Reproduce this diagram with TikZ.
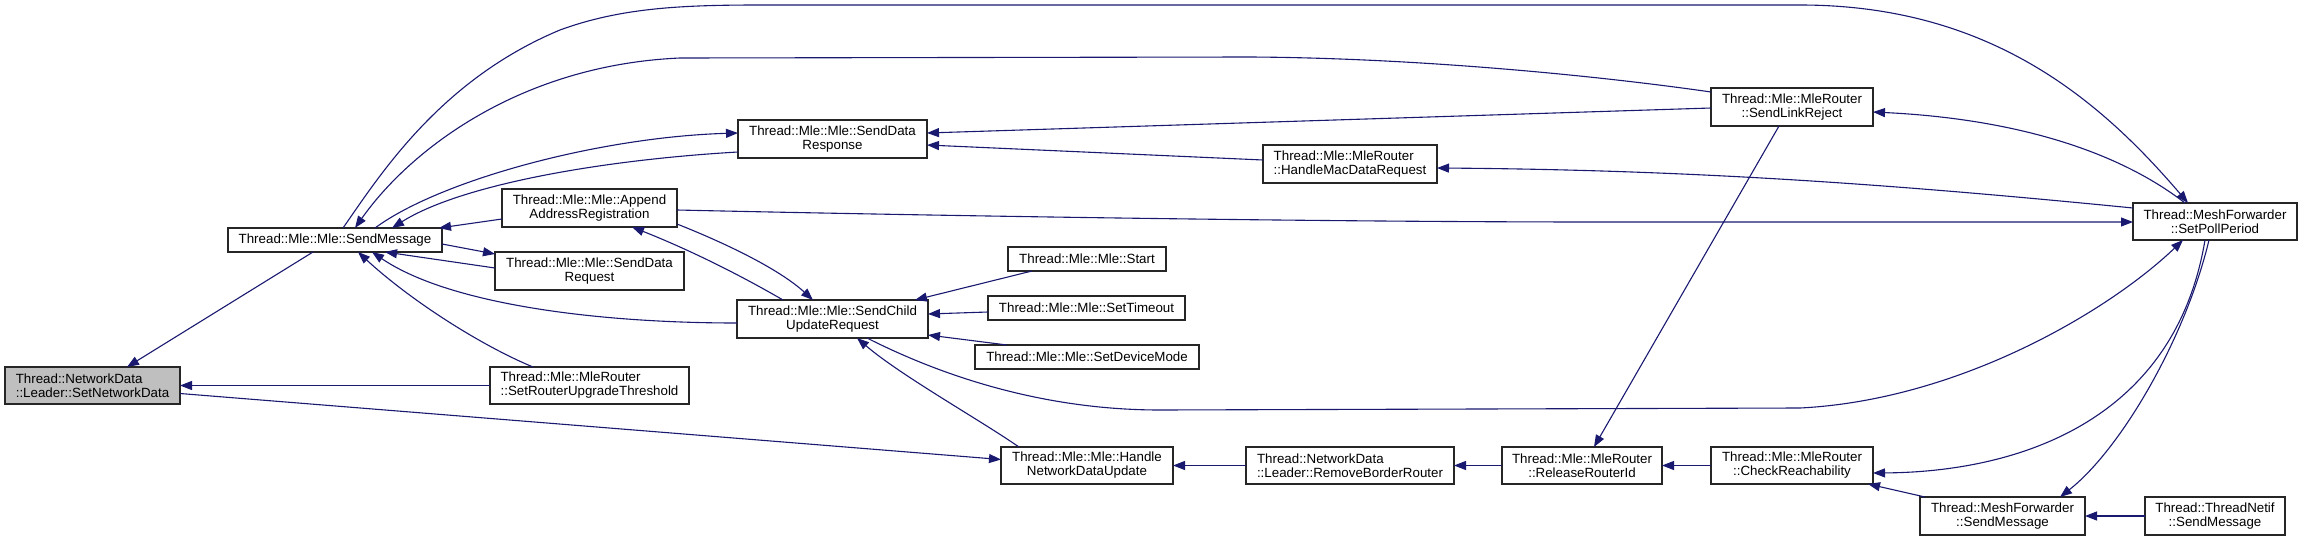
\documentclass[tikz,border=0pt]{standalone}
\usepackage{fontspec}
\setmainfont{Liberation Sans}
\usetikzlibrary{arrows.meta,calc}
\definecolor{midnight}{RGB}{25,25,112}
\definecolor{greyroot}{RGB}{191,191,191}
\begin{document}
\begin{tikzpicture}[x=1pt,y=-1pt,
  fn/.style={draw=black!85, line width=1.2pt, fill=white, inner sep=0pt, outer sep=0pt, align=center, font=\fontsize{13.33}{14}\selectfont},
  rootfn/.style={fn, fill=greyroot, align=left},
  lft/.style={align=left},
  callarrow/.style={draw=midnight, line width=1.1pt, -{Triangle[length=12pt,width=9pt]}}]
\useasboundingbox (0,0) rectangle (2303,541);

% nodes
\node[rootfn, minimum width=175, minimum height=37] (SND) at (92.5,385.5) {Thread::NetworkData\\::Leader::SetNetworkData};
\node[fn, minimum width=214, minimum height=24] (SM) at (335,240) {Thread::Mle::Mle::SendMessage};
\node[fn, minimum width=189, minimum height=38] (SDR) at (832.5,139) {Thread::Mle::Mle::SendData\\Response};
\node[fn, minimum width=175, minimum height=38] (APP) at (589.5,208) {Thread::Mle::Mle::Append\\AddressRegistration};
\node[fn, minimum width=189, minimum height=38] (SDQ) at (589.5,271) {Thread::Mle::Mle::SendData\\Request};
\node[fn, minimum width=191, minimum height=38] (SCUR) at (832.5,319) {Thread::Mle::Mle::SendChild\\UpdateRequest};
\node[fn, lft, minimum width=199, minimum height=37] (SRUT) at (589.5,385.5) {Thread::Mle::MleRouter\\::SetRouterUpgradeThreshold};
\node[fn, minimum width=158, minimum height=24] (Start) at (1087,259) {Thread::Mle::Mle::Start};
\node[fn, minimum width=197, minimum height=24] (STO) at (1086.5,308) {Thread::Mle::Mle::SetTimeout};
\node[fn, minimum width=224, minimum height=24] (SDM) at (1087,357) {Thread::Mle::Mle::SetDeviceMode};
\node[fn, minimum width=172, minimum height=37] (HNDU) at (1087,465.5) {Thread::Mle::Mle::Handle\\NetworkDataUpdate};
\node[fn, lft, minimum width=174, minimum height=38] (HMDR) at (1350,164) {Thread::Mle::MleRouter\\::HandleMacDataRequest};
\node[fn, lft, minimum width=208, minimum height=37] (RBR) at (1350,465.5) {Thread::NetworkData\\::Leader::RemoveBorderRouter};
\node[fn, minimum width=162, minimum height=38] (SLR) at (1792,107) {Thread::Mle::MleRouter\\::SendLinkReject};
\node[fn, minimum width=160, minimum height=37] (RRI) at (1582,465.5) {Thread::Mle::MleRouter\\::ReleaseRouterId};
\node[fn, minimum width=162, minimum height=37] (CR) at (1792,465.5) {Thread::Mle::MleRouter\\::CheckReachability};
\node[fn, minimum width=164, minimum height=37] (SPP) at (2215,221.5) {Thread::MeshForwarder\\::SetPollPeriod};
\node[fn, minimum width=165, minimum height=38] (MSM) at (2002.5,516) {Thread::MeshForwarder\\::SendMessage};
\node[fn, minimum width=140, minimum height=38] (TN) at (2215,516) {Thread::ThreadNetif\\::SendMessage};

% connectors
\draw[callarrow] ($(SM.south west)+(85,0)$) -- ($(SND.north west)+(122,0)$);
\draw[callarrow] (SRUT.west) -- (SND.east);
\draw[callarrow] ($(SND.east)+(0,8)$) -- ($(HNDU.west)+(0,-6)$);
% SM -> SPP (top curve)
\draw[callarrow] ($(SM.north west)+(115,0)$) .. controls (380,175) and (440,80) .. (560,30)
  .. controls (620,8) and (680,5) .. (760,5) -- (1800,5)
  .. controls (1990,5) and (2100,100) .. ($(SPP.north west)+(55,0)$);
% SLR -> SM
\draw[callarrow] ($(SLR.north west)+(0,4)$) .. controls (1600,76) and (1420,58) .. (1250,57)
  -- (680,58) .. controls (520,65) and (410,150) .. ($(SM.north west)+(127,0)$);
% SM -> SDR
\draw[callarrow] ($(SM.north west)+(147,0)$) .. controls (440,180) and (600,137) .. ($(SDR.west)+(0,-6)$);
% SDR -> SM
\draw[callarrow] ($(SDR.west)+(0,13)$) .. controls (600,160) and (460,185) .. ($(SM.north west)+(164,0)$);
% APP -> SM
\draw[callarrow] ($(APP.west)+(0,11)$) -- ($(SM.north east)+(-3,0)$);
% SM -> SDQ
\draw[callarrow] ($(SM.east)+(0,4)$) -- ($(SDQ.north west)+(0,2)$);
% SDQ -> SM
\draw[callarrow] ($(SDQ.west)+(0,-3)$) -- ($(SM.south west)+(157,0)$);
% SCUR -> SM
\draw[callarrow] ($(SCUR.west)+(0,4)$) .. controls (600,323) and (450,305) .. ($(SM.south west)+(144,0)$);
% SRUT -> SM
\draw[callarrow] ($(SRUT.north west)+(43,0)$) .. controls (480,345) and (410,300) .. ($(SM.south west)+(130,0)$);
% SLR -> SDR, HMDR -> SDR
\draw[callarrow] ($(SLR.west)+(0,1)$) -- ($(SDR.east)+(0,-6)$);
\draw[callarrow] ($(HMDR.west)+(0,-4)$) -- ($(SDR.east)+(0,6)$);
% SPP -> SLR
\draw[callarrow] ($(SPP.north west)+(52,0)$) .. controls (2110,145) and (2000,118) .. ($(SLR.east)+(0,5)$);
% SPP -> HMDR
\draw[callarrow] ($(SPP.north west)+(0,5)$) .. controls (1900,185) and (1700,170) .. ($(HMDR.east)+(0,4)$);
% APP -> SPP
\draw[callarrow] ($(APP.east)+(0,2)$) .. controls (900,215) and (1300,222) .. (1600,222) -- ($(SPP.west)+(0,0.5)$);
% SLR -> RRI
\draw[callarrow] ($(SLR.south west)+(68,0)$) -- ($(RRI.north west)+(92,0)$);
% APP <-> SCUR
\draw[callarrow] ($(APP.south east)+(0,-3)$) .. controls (730,245) and (780,270) .. ($(SCUR.north west)+(76,0)$);
\draw[callarrow] ($(SCUR.north west)+(46,0)$) .. controls (740,275) and (690,250) .. ($(APP.south west)+(130,0)$);
% Start, SetTimeout, SetDeviceMode -> SCUR
\draw[callarrow] ($(Start.south west)+(24,0)$) -- ($(SCUR.north east)+(-13,0)$);
\draw[callarrow] ($(STO.west)+(0,4)$) -- ($(SCUR.east)+(0,-5)$);
\draw[callarrow] ($(SDM.north west)+(32,0)$) -- ($(SCUR.east)+(0,16)$);
% SCUR -> SPP
\draw[callarrow] ($(SCUR.south east)+(-61,0)$) .. controls (950,380) and (1050,410) .. (1160,410)
  -- (1800,408) .. controls (1960,400) and (2110,310) .. ($(SPP.south west)+(50,0)$);
% HNDU -> SCUR
\draw[callarrow] ($(HNDU.north west)+(18,0)$) .. controls (980,420) and (900,375) .. ($(SCUR.south east)+(-71,0)$);
% bottom chain
\draw[callarrow] (RBR.west) -- (HNDU.east);
\draw[callarrow] (RRI.west) -- (RBR.east);
\draw[callarrow] (CR.west) -- (RRI.east);
% SPP -> CR, MSM -> CR, SPP -> MSM, TN -> MSM
\draw[callarrow] ($(SPP.south west)+(72,0)$) .. controls (2175,420) and (2020,472) .. ($(CR.east)+(0,7.5)$);
\draw[callarrow] ($(MSM.north west)+(5,0)$) -- ($(CR.south east)+(-5,0)$);
\draw[callarrow] ($(SPP.south west)+(76,0)$) .. controls (2185,340) and (2120,450) .. ($(MSM.north east)+(-25,0)$);
\draw[callarrow] (TN.west) -- (MSM.east);
\end{tikzpicture}
\end{document}
